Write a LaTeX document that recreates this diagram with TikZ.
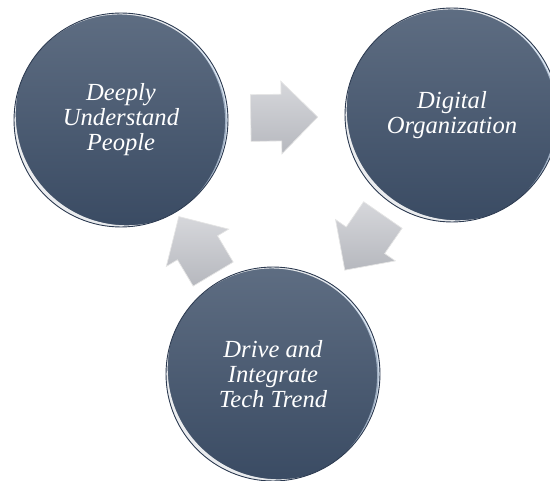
\documentclass[tikz,border=0pt]{standalone}
\usepackage{fontspec}
\setmainfont{Liberation Serif}
\usetikzlibrary{shapes.arrows}
\definecolor{balltop}{RGB}{94,109,130}
\definecolor{ballbot}{RGB}{58,75,99}
\definecolor{ballrim}{RGB}{44,58,80}
\definecolor{glint}{RGB}{214,230,248}
\definecolor{arrtop}{RGB}{214,215,219}
\definecolor{arrbot}{RGB}{182,184,190}
\newcommand{\ballr}{2.14cm}

\begin{document}
\begin{tikzpicture}[
x=0.02cm,y=0.02cm,
ball/.style={
  circle,
  minimum size=4.28cm,
  inner sep=0pt,
  top color=balltop,
  bottom color=ballbot,
  draw=ballrim,
  line width=.5pt,
  text=white,
  align=center,
  font=\itshape\fontsize{14}{14.2}\selectfont,
  path picture={
    \fill[white,opacity=.3,even odd rule]
      (path picture bounding box.center) circle (\ballr)
      ([shift={(45:2.4mm)}]path picture bounding box.center) circle (2.3cm);
    \fill[white,opacity=.85,even odd rule]
      ([shift={(225:0.4mm)}]path picture bounding box.center) circle (\ballr)
      ([shift={(45:1.6mm)}]path picture bounding box.center) circle (2.22cm);
    \fill[glint,opacity=.6,even odd rule]
      (path picture bounding box.center) circle (\ballr)
      ([shift={(190:1.3mm)}]path picture bounding box.center) circle (2.21cm);
  }
},
arr/.style={
  single arrow,
  minimum height=1.34cm,
  inner xsep=0pt,
  inner ysep=0.46cm,
  single arrow head extend=0.26cm,
  top color=arrtop,
  bottom color=arrbot,
  draw=white!80!gray,
  line width=.4pt,
  sloped,
  allow upside down
}
]
\useasboundingbox (0,0) rectangle (550,480);

\node[ball] (people) at (121,360) {Deeply\\Understand\\People};
\node[ball] (digital) at (452,365) {Digital\\Organization};
\node[ball] (trend) at (273,106) {Drive and\\Integrate\\Tech Trend};

\path (people) -- node[arr,pos=.38] (arr1) {} (digital);
\path (digital) -- node[arr,pos=.36] (arr2) {} (trend);
\path (trend) -- node[arr,pos=.38] (arr3) {} (people);
\end{tikzpicture}
\end{document}
